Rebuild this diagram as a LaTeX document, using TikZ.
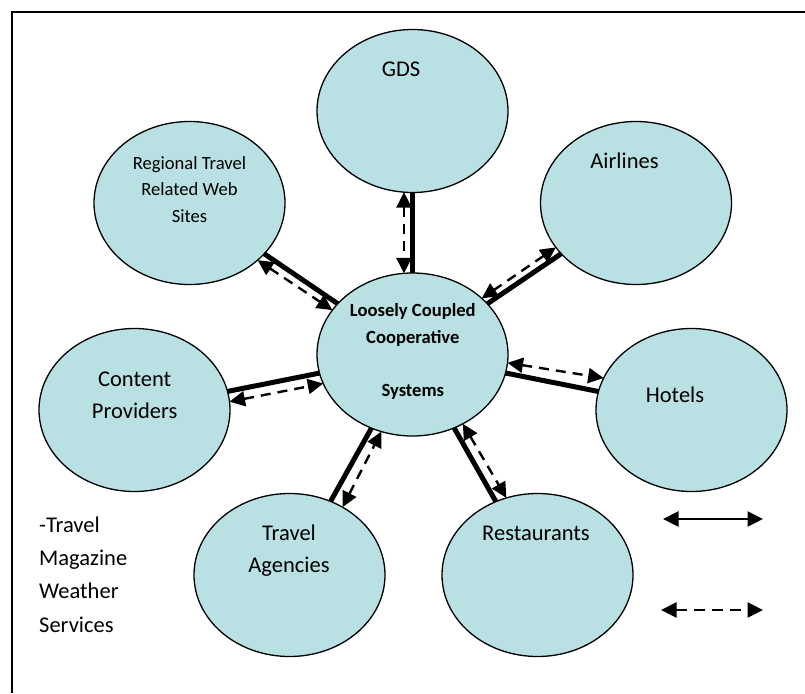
\documentclass[tikz,border=0pt]{standalone}
\usepackage{fontspec}
\setmainfont{Carlito}
\usetikzlibrary{shapes,arrows.meta,calc,positioning}
\definecolor{bubblefill}{HTML}{B9E0E3}
\tikzstyle{bubble} = [ellipse, draw, line width=1.3pt, fill=bubblefill, minimum width=191pt, minimum height=163pt, inner sep=0pt, outer sep=0pt]
\tikzstyle{link} = [line width=5pt]
\tikzstyle{dlink} = [line width=2.4pt, dash pattern=on 10pt off 7pt, {Triangle[length=15.5pt,width=15pt]}-{Triangle[length=15.5pt,width=15pt]}]
\tikzstyle{keyarrow} = [line width=2.4pt, {Triangle[length=15.5pt,width=15pt]}-{Triangle[length=15.5pt,width=15pt]}]
\tikzstyle{big} = [font=\fontsize{22.5}{31.5}\selectfont, align=center, inner sep=0pt, anchor=base]
\tikzstyle{small} = [font=\fontsize{18.6}{26.5}\selectfont, align=center, inner sep=0pt, anchor=base]

\begin{document}
\begin{tikzpicture}[x=1pt,y=-1pt]
\useasboundingbox (0,0) rectangle (805,693);
% frame
\draw[line width=2pt] (11.7,693) -- (11.7,11.7) -- (805,11.7);

% bubbles
\node[bubble] (core) at (412.5,354.5) {};
\node[bubble] (gds) at (412.5,111) {};
\node[bubble] (regional) at (189.5,203) {};
\node[bubble] (airlines) at (636,203) {};
\node[bubble] (content) at (134.5,410) {};
\node[bubble] (hotels) at (691.5,410) {};
\node[bubble] (agencies) at (289.5,575) {};
\node[bubble] (restaurants) at (537.5,575) {};

% texts (base = last line)
\node[big] (gdstext) at (401,77) {GDS};
\node[small] (regionaltext) at (189.5,222) {Regional Travel\\Related Web\\Sites};
\node[big] (airlinestext) at (624.5,168) {Airlines};
\node[small,font=\bfseries\fontsize{18.6}{26.5}\selectfont] (coretext) at (412.8,396) {Loosely Coupled\\Cooperative\\[26.5pt]Systems};
\node[big] (contenttext) at (134.7,418) {Content\\Providers};
\node[big] (hotelstext) at (675,402) {Hotels};
\node[big] (agenciestext) at (289,572) {Travel\\Agencies};
\node[big] (restaurantstext) at (536,540) {Restaurants};
\node[big,anchor=base west,align=left,font=\fontsize{22.5}{33.3}\selectfont] (extratext) at (39,632) {-Travel\\Magazine\\Weather\\Services};

% links
\draw[link] (gds) -- (core);
\draw[dlink] (gds.-96.6) -- (core.96.6);
\draw[link] (regional) -- (core);
\draw[dlink] (regional.-40.7) -- (core.151.7);
\draw[link] (airlines) -- (core);
\draw[dlink] (airlines.-151.5) -- (core.39.6);
\draw[link] (content) -- (core);
\draw[dlink] (content.5.4) -- (core.-162.9);
\draw[link] (agencies) -- (core);
\draw[dlink] (agencies.52.6) -- (core.-112.5);
\draw[link] (hotels) -- (core);
\draw[dlink] (core.-5) -- (hotels.160.9);
\draw[link] (restaurants) -- (core);
\draw[dlink] (core.-54.4) -- (restaurants.112);

% key
\coordinate (keysolida) at (663,519);
\coordinate (keysolidb) at (763,519);
\coordinate (keydasha) at (661,610);
\coordinate (keydashb) at (763,610);
\draw[keyarrow] (keysolida) -- (keysolidb);
\draw[keyarrow, dash pattern=on 11pt off 7pt] (keydasha) -- (keydashb);
\end{tikzpicture}
\end{document}
